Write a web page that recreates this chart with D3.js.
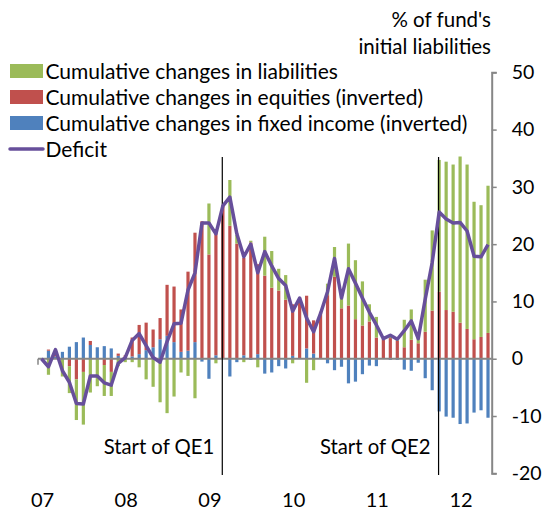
<!DOCTYPE html>
<html>
<head>
<meta charset="utf-8">
<script src="https://cdn.jsdelivr.net/npm/d3@7"></script>
<style>
    body { margin: 0; background: #fff; }
    svg text { font-family: Lato, "Open Sans", sans-serif; fill: #000; }
</style>
</head>
<body>
<div id="chart"></div>
<script>

//////////////////
// Data
//////////////////

// monthly observations, Jan 2007 .. May 2012
var firstMonth = new Date(2007, 0, 1);
var monthCount = 65;

var yearLabels = ["07", "08", "09", "10", "11", "12"];

var liabilities = [
    0, -2.8, 0, -3.1, -4.7, -7.1, -9.2, -5.9, -4.8, -5.4, -4.2, -1.3,
    -0.6, -0.6, -1.5, -3.6, -4.9, -7.6, -9.5, -6.6, -2.4, -3.0, -6.9, 0,
    8.9, -0.8, 0, 8.0, 1.5, -0.6, 0.3, -1.5, 6.8, 6.4, 3.8, 4.3,
    -0.8, 0, -4.2, -2.0, 0, 2.0, 5.2, 3.2, 10.8, 10.3, 7.7, 3.0,
    3.6, 0, 0.6, 0.4, 4.8, 5.3, 1.1, 9.1, 14.0, 23.0, 25.9, 25.7,
    29.0, 28.7, 24.0, 23.0, 25.7
];

var equities = [
    0, 0.2, 1.0, 0, -1.3, -3.6, -2.3, 0.7, 0, -1.1, -2.3, 0.4,
    0.4, 3.3, 5.1, 4.8, 3.1, 3.7, 8.9, 9.7, 7.4, 13.8, 19.1, 24.0,
    18.2, 21.9, 26.7, 23.2, 20.1, 17.0, 20.3, 15.7, 14.5, 12.4, 11.9, 10.3,
    9.0, 10.7, 9.2, 5.8, 8.2, 11.1, 14.3, 8.8, 9.3, 6.9, 5.8, 6.5,
    3.7, 3.4, 3.6, 3.1, 2.0, 3.3, 2.7, 4.7, 8.4, 11.7, 8.5, 8.2,
    6.3, 5.2, 3.4, 3.8, 4.5
];

var fixedIncome = [
    0, 1.4, 0.4, 1.2, 2.1, 2.9, 3.7, 2.4, 2.0, 2.2, 1.8, 0.5,
    0.2, 0.4, 0.8, 1.5, 2.0, 3.4, 4.0, 2.9, 1.2, 1.4, 2.9, -0.5,
    -3.5, 0.6, 0, -3.1, -0.6, 0.6, -0.2, 0.8, -2.6, -2.4, -1.3, -1.7,
    0.5, 0, 1.8, 0.9, 0, -0.8, -2.0, -1.4, -4.3, -4.0, -2.7, -1.2,
    -1.3, 0, -0.2, -0.2, -1.9, -2.1, -0.7, -3.4, -5.5, -9.2, -10.1, -10.3,
    -11.4, -11.3, -9.4, -9.0, -10.3
];

var deficit = [
    0, -1.4, 1.6, -2.1, -4.1, -7.8, -7.9, -3.0, -3.0, -4.2, -4.6, -0.8,
    0.2, 3.2, 4.4, 2.3, 0.2, -0.6, 3.0, 6.1, 6.2, 12.0, 15.0, 23.7,
    23.7, 21.8, 26.7, 28.2, 21.8, 17.8, 20.0, 15.0, 18.7, 16.2, 14.0, 12.8,
    8.3, 10.6, 7.1, 4.7, 7.9, 11.7, 17.5, 10.6, 15.7, 13.2, 10.6, 8.1,
    5.9, 3.5, 4.1, 3.4, 4.9, 6.6, 3.5, 10.4, 16.8, 25.6, 24.4, 23.7,
    23.8, 22.3, 17.9, 17.8, 19.9
];

var yTicks = [-20, -10, 0, 10, 20, 30, 40, 50];

// month index of each QE start marker
var qeMonths = [26, 57];
var qeLabels = ["Start of QE1", "Start of QE2"];

var legendLabels = [
    "Cumulative changes in liabilities",
    "Cumulative changes in equities  (inverted)",
    "Cumulative changes in fixed income (inverted)",
    "Deficit"
];

//////////////////
// Setup
//////////////////

var width = 545, height = 514;
var colors = { liab: "#9bbb59", eq: "#c0504d", fi: "#4f81bd", deficit: "#674f9b" };

var months = d3.timeMonth.range(firstMonth, d3.timeMonth.offset(firstMonth, monthCount));

var rows = months.map(function (m, i) {
    return { month: m, fi: fixedIncome[i], eq: equities[i], liab: liabilities[i] };
});

var svg = d3.select("#chart").append("svg")
    .attr("width", width)
    .attr("height", height);

var x = d3.scaleBand()
    .domain(d3.range(monthCount))
    .range([38, 491.5]);

var y = d3.scaleLinear()
    .domain([-20, 50])
    .range([473.3, 72.3]);

var barW = 3.2;

//////////////////
// Bars
//////////////////

// fixed income closest to zero, then equities, then liabilities
var stack = d3.stack()
    .keys(["fi", "eq", "liab"])
    .offset(d3.stackOffsetDiverging);

var series = stack(rows);

svg.append("g").attr("class", "bars")
    .selectAll("g")
    .data(series)
    .enter()
    .append("g")
        .attr("fill", function (d) { return colors[d.key]; })
        .selectAll("rect")
        .data(function (d) { return d; })
        .enter()
        .append("rect")
            .attr("x", function (d, i) { return x(i) + x.bandwidth() / 2 - barW / 2; })
            .attr("width", barW)
            .attr("y", function (d) { return y(Math.max(d[0], d[1])); })
            .attr("height", function (d) { return Math.abs(y(d[0]) - y(d[1])); });

//////////////////
// Axes
//////////////////

// horizontal zero line
svg.append("line")
    .attr("x1", x.range()[0]).attr("x2", x.range()[1])
    .attr("y1", y(0)).attr("y2", y(0))
    .attr("stroke", "#868686").attr("stroke-width", 2);

svg.append("line")
    .attr("x1", x.range()[0]).attr("x2", x.range()[0])
    .attr("y1", y(0)).attr("y2", y(0) + 6)
    .attr("stroke", "#868686").attr("stroke-width", 1.5);

// right value axis (plain hyphen for negatives, like the original)
var yAxis = d3.axisRight(y)
    .tickValues(yTicks)
    .tickFormat(function (d) { return String(d); })
    .tickSize(5)
    .tickPadding(15);

var gy = svg.append("g")
    .attr("transform", "translate(" + 491.7 + ",0)")
    .call(yAxis);

gy.select(".domain").attr("stroke", "#868686").attr("stroke-width", 2);
gy.selectAll(".tick line").attr("stroke", "#868686").attr("stroke-width", 1.5);
gy.selectAll(".tick text")
    .attr("font-size", 19.5)
    .attr("font-family", "Lato")
    .attr("fill", "#000");

// year labels under the chart
svg.append("g").selectAll("text")
    .data(yearLabels)
    .enter()
    .append("text")
        .attr("x", function (d, i) { return x(i * 12) + x.bandwidth() / 2 + 1; })
        .attr("y", 507)
        .attr("text-anchor", "middle")
        .attr("font-size", 20)
        .text(function (d) { return d; });

// axis title
svg.append("text")
    .attr("x", 491)
    .attr("y", 27)
    .attr("text-anchor", "end")
    .attr("font-size", 20.5)
    .text("% of fund's");

svg.append("text")
    .attr("x", 491)
    .attr("y", 54)
    .attr("text-anchor", "end")
    .attr("font-size", 20.5)
    .text("initial liabilities");

//////////////////
// QE markers
//////////////////

qeMonths.forEach(function (m, i) {
    var qx = x(m) + x.bandwidth() / 2 - 0.6;
    svg.append("line")
        .attr("x1", qx).attr("x2", qx)
        .attr("y1", 157).attr("y2", 475)
        .attr("stroke", "#000").attr("stroke-width", 1.2);
    svg.append("text")
        .attr("x", qx - 8)
        .attr("y", 454)
        .attr("text-anchor", "end")
        .attr("font-size", 20.3)
        .text(qeLabels[i]);
});

//////////////////
// Deficit line
//////////////////

var line = d3.line()
    .x(function (d, i) { return x(i) + x.bandwidth() / 2; })
    .y(function (d) { return y(d); });

svg.append("path")
    .datum(deficit)
    .attr("fill", "none")
    .attr("stroke", colors.deficit)
    .attr("stroke-width", 3.5)
    .attr("stroke-linejoin", "round")
    .attr("d", line);

//////////////////
// Legend
//////////////////

var legendKeys = ["liab", "eq", "fi", "deficit"];

var legend = svg.append("g").selectAll("g")
    .data(legendKeys)
    .enter()
    .append("g")
        .attr("transform", function (d, i) { return "translate(10," + (64 + i * 26) + ")"; });

legend.each(function (d, i) {
    var g = d3.select(this);
    if (d === "deficit") {
        g.append("line")
            .attr("x1", 0).attr("x2", 33)
            .attr("y1", 7).attr("y2", 7)
            .attr("stroke", colors.deficit)
            .attr("stroke-width", 3.5)
            .attr("stroke-linecap", "round");
    } else {
        g.append("rect")
            .attr("width", 33)
            .attr("height", 14)
            .attr("fill", colors[d]);
    }
    g.append("text")
        .attr("x", 35.5)
        .attr("y", 14.5)
        .attr("font-size", 21)
        .text(legendLabels[i]);
});

</script>
</body>
</html>
